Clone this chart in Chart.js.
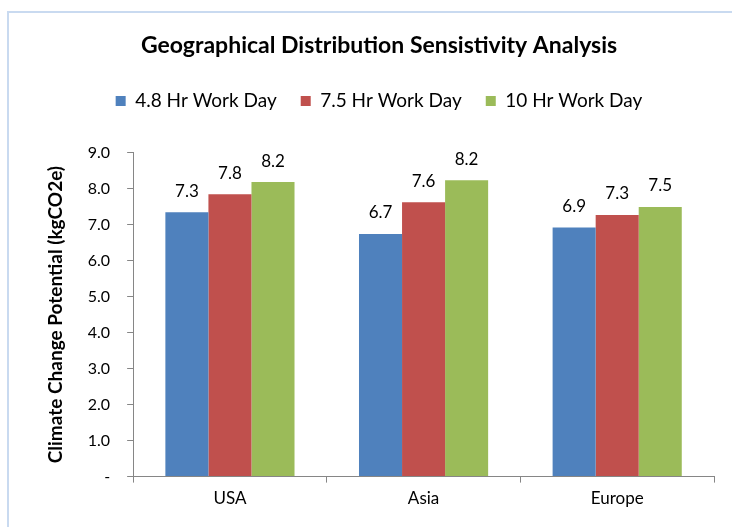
<!DOCTYPE html>
<html>
<head>
<meta charset="utf-8">
<script src="https://cdn.jsdelivr.net/npm/chart.js@4.4.1/dist/chart.umd.min.js"></script>
<style>
  body { margin: 0; background: #fff; }
  #frame {
    position: absolute; left: 7px; top: 11px; width: 760px; height: 560px;
    border: 2px solid #c9daf0; box-sizing: border-box;
  }
  #wrap { position: absolute; left: 0; top: 0; width: 732px; height: 527px; }
</style>
</head>
<body>
<div id="frame"></div>
<div id="wrap"><canvas id="mychart"></canvas></div>
<script>
// data
let regions = ['USA', 'Asia', 'Europe'];
let seriesNames = ['4.8 Hr Work Day', '7.5 Hr Work Day', '10 Hr Work Day'];
let shortDay = [7.34, 6.74, 6.92];   // 4.8 hr
let midDay = [7.84, 7.62, 7.27];     // 7.5 hr
let longDay = [8.18, 8.23, 7.49];    // 10 hr
let yTicks = [0, 1, 2, 3, 4, 5, 6, 7, 8, 9];
let seriesColors = ['#4f81bd', '#c0504d', '#9bbb59'];

let axisGrey = '#868686';
let fontName = 'Lato';

// push some room under the legend
const legendGap = {
  id: 'legendGap',
  beforeInit(chart) {
    const oldFit = chart.legend.fit;
    chart.legend.fit = function fit() {
      oldFit.bind(chart.legend)();
      this.height += 32;
    };
  }
};

// value labels above each bar
const barLabels = {
  id: 'barLabels',
  afterDatasetsDraw(chart) {
    const ctx = chart.ctx;
    ctx.save();
    ctx.font = '17px ' + fontName;
    ctx.fillStyle = '#000';
    ctx.textAlign = 'center';
    ctx.textBaseline = 'middle';
    chart.data.datasets.forEach((ds, i) => {
      chart.getDatasetMeta(i).data.forEach((bar, j) => {
        ctx.fillText(ds.data[j].toFixed(1), bar.x, bar.y - 21);
      });
    });
    ctx.restore();
  }
};

let allValues = [shortDay, midDay, longDay];
let datasets = [];
for (let i = 0; i < seriesNames.length; i++) {
  datasets.push({
    label: seriesNames[i],
    data: allValues[i],
    backgroundColor: seriesColors[i],
    borderWidth: 0,
    categoryPercentage: 0.667,
    barPercentage: 1.0
  });
}

let ctxWindow = document.getElementById('mychart');

const myChart = new Chart(ctxWindow, {
  type: 'bar',
  data: { labels: regions, datasets: datasets },
  plugins: [legendGap, barLabels],
  options: {
    responsive: true,
    maintainAspectRatio: false,
    animation: false,
    layout: { padding: { top: 20, left: 44, right: 18, bottom: 12 } },
    plugins: {
      title: {
        display: true,
        text: 'Geographical Distribution Sensistivity Analysis',
        color: '#000',
        font: { family: fontName, size: 23, weight: 'bold' },
        padding: { top: 12, bottom: 8 }
      },
      legend: {
        position: 'top',
        labels: {
          color: '#000',
          font: { family: fontName, size: 19 },
          boxWidth: 10,
          boxHeight: 10,
          padding: 24
        }
      },
      tooltip: { enabled: false }
    },
    scales: {
      x: {
        grid: {
          offset: true,
          drawOnChartArea: false,
          color: axisGrey,
          tickLength: 6
        },
        border: { color: axisGrey, width: 1 },
        ticks: {
          color: '#000',
          font: { family: fontName, size: 17 },
          padding: 6
        }
      },
      y: {
        min: yTicks[0],
        max: yTicks[yTicks.length - 1],
        grid: {
          drawOnChartArea: false,
          color: axisGrey,
          tickLength: 6
        },
        border: { color: axisGrey, width: 1 },
        afterBuildTicks: function (axis) {
          axis.ticks = yTicks.map(v => ({ value: v }));
        },
        ticks: {
          color: '#000',
          font: { family: fontName, size: 16 },
          padding: 17,
          callback: function (v) { return v === 0 ? '-' : v.toFixed(1); }
        },
        title: {
          display: true,
          text: 'Climate Change Potential (kgCO2e)',
          color: '#000',
          font: { family: fontName, size: 19, weight: 'bold' },
          padding: { top: 0, bottom: 4 }
        }
      }
    }
  }
});
</script>
</body>
</html>
